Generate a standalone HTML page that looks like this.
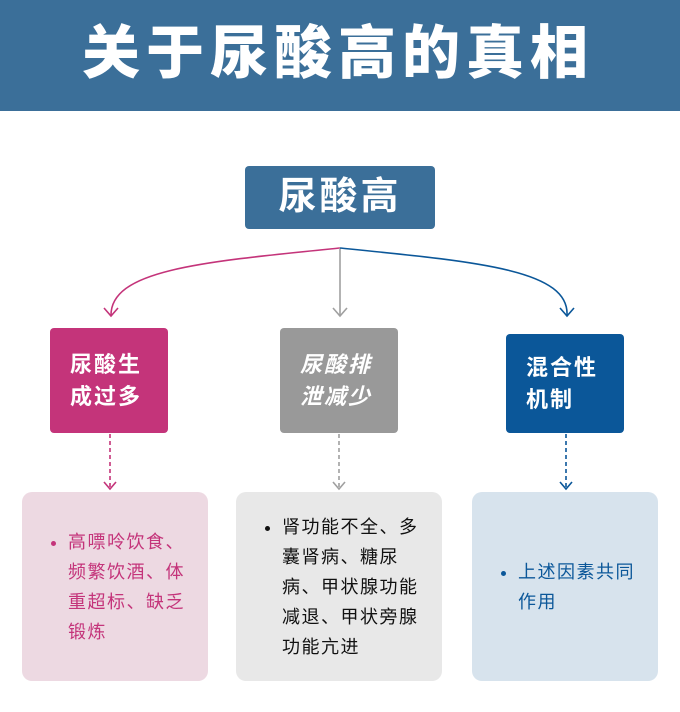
<!DOCTYPE html>
<html><head><meta charset="utf-8"><style>
body{margin:0;width:680px;height:712px;background:#fff;position:relative;overflow:hidden;font-family:"Liberation Sans","Noto Sans CJK SC",sans-serif}
.hdr{position:absolute;left:0;top:0;width:680px;height:111px;background:#3b6f99;color:#fff;font-size:58px;font-weight:900;text-align:center;line-height:108px;letter-spacing:6px;text-indent:-4px}
.b{position:absolute;border-radius:4px;color:#fff;box-sizing:border-box}
.mid{font-size:22px;font-weight:bold;line-height:32px;padding-left:20px;letter-spacing:2px;display:flex;align-items:center}
.card{position:absolute;border-radius:10px;top:492px;height:189px;box-sizing:border-box;font-size:18px;letter-spacing:1.5px;line-height:30px;display:flex;align-items:center}
.card ul{margin:0;padding-left:46px}
</style></head><body>
<div class="hdr">关于尿酸高的真相</div>
<div class="b" style="left:245px;top:166px;width:190px;height:63px;background:#3b6f99;font-size:38px;font-weight:bold;line-height:63px;text-align:center;letter-spacing:3px">尿酸高</div>
<svg width="680" height="712" style="position:absolute;left:0;top:0" fill="none" stroke-width="1.6">
<path d="M340 248 C200 262 110 270 111 316" stroke="#c4347a"/><path d="M104 308 L111 316 L118 308" stroke="#c4347a"/>
<path d="M340 248 L340 316" stroke="#a0a0a0"/><path d="M333 308 L340 316 L347 308" stroke="#a0a0a0"/>
<path d="M340 248 C480 262 570 270 567 316" stroke="#0b5799"/><path d="M560 308 L567 316 L574 308" stroke="#0b5799"/>
<path d="M110 434 L110 490" stroke="#c4347a" stroke-dasharray="4 3"/><path d="M104 482 L110 489 L116 482" stroke="#c4347a"/>
<path d="M339 434 L339 490" stroke="#a0a0a0" stroke-dasharray="4 3"/><path d="M333 482 L339 489 L345 482" stroke="#a0a0a0"/>
<path d="M566 434 L566 490" stroke="#0b5799" stroke-dasharray="4 3"/><path d="M560 482 L566 489 L572 482" stroke="#0b5799"/>
</svg>
<div class="b mid" style="left:50px;top:328px;width:118px;height:105px;background:#c4347a">尿酸生<br>成过多</div>
<div class="b mid" style="left:280px;top:328px;width:118px;height:105px;background:#999;font-style:italic">尿酸排<br>泄减少</div>
<div class="b mid" style="left:506px;top:334px;width:118px;height:99px;background:#0b5799">混合性<br>机制</div>
<div class="card" style="left:22px;width:186px;background:#edd9e2;color:#c4347a"><ul style="width:120px"><li>高嘌呤饮食、频繁饮酒、体重超标、缺乏锻炼</li></ul></div>
<div class="card" style="left:236px;width:206px;background:#e8e8e8;color:#111"><ul style="width:140px"><li>肾功能不全、多囊肾病、糖尿病、甲状腺功能减退、甲状旁腺功能亢进</li></ul></div>
<div class="card" style="left:472px;width:186px;background:#d7e3ed;color:#0b5799"><ul style="width:120px"><li>上述因素共同作用</li></ul></div>
</body></html>
